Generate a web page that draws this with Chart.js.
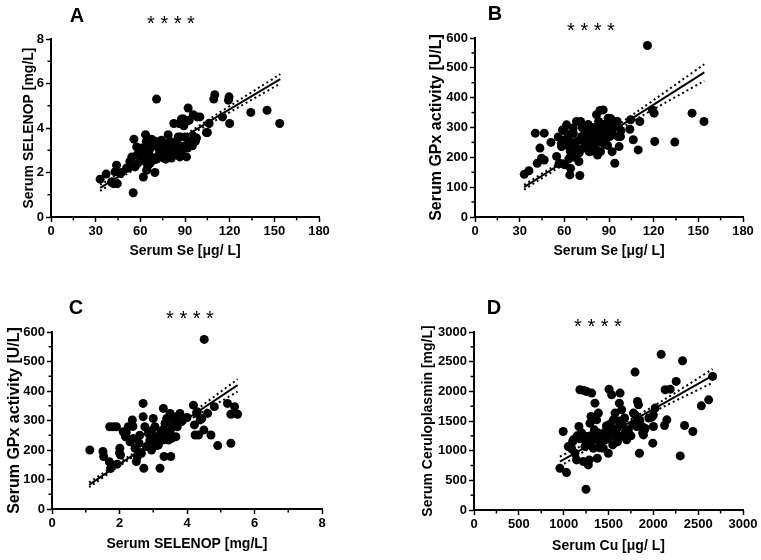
<!DOCTYPE html>
<html lang="en">
<head>
  <meta charset="UTF-8">
  <title>Selenium / copper correlations</title>
  <script src="https://cdn.jsdelivr.net/npm/chart.js"></script>
  <style>
    body { margin: 0; background: #fff; font-family: "Liberation Sans", Arial, sans-serif; }
    #fig { position: relative; width: 761px; height: 560px; }
    canvas { position: absolute; }
    .letter { position: absolute; font-weight: bold; font-size: 20px; line-height: 20px; transform: translateX(-50%); }
    .stars { position: absolute; font-size: 20px; line-height: 20px; transform: translateX(-50%); white-space: pre; }
  </style>
</head>
<body>
<div id="fig">
  <canvas id="cA" width="380" height="280" style="left:0;top:0"></canvas>
  <canvas id="cB" width="381" height="280" style="left:380px;top:0"></canvas>
  <canvas id="cC" width="380" height="280" style="left:0;top:280px"></canvas>
  <canvas id="cD" width="381" height="280" style="left:380px;top:280px"></canvas>
  <div class="letter" style="left:77px;top:5px">A</div>
  <div class="letter" style="left:495px;top:3px">B</div>
  <div class="letter" style="left:76px;top:297px">C</div>
  <div class="letter" style="left:494px;top:297px">D</div>
  <div class="stars" style="left:171px;top:13px">* * * *</div>
  <div class="stars" style="left:591px;top:20px">* * * *</div>
  <div class="stars" style="left:190px;top:308px">* * * *</div>
  <div class="stars" style="left:598px;top:316px">* * * *</div>
</div>

<script>
// A: serum Se vs SELENOP
const seA = [33,37,40.7,43,44,44.5,46.7,50.8,55.2,55.7,54.3,57.5,58,56.4,59.7,60.8,62,63.5,64.2,64.6,
  65.3,66.4,67.5,68.6,69.8,70.9,72,73,74.2,75.4,75.8,76.9,77.6,78.7,79.8,80.9,81.6,82.5,83.2,84.3,
  85.4,86.5,87.6,88,89.2,89.9,91,91.7,92.1,92.8,94.4,95.5,97.7,98.2,104.4,106.2,109.3,110,115.2,119.2,
  119.6,120,134.2,145.1,153.6,
  62,66,70,73,76,78,80,82,84,86,88,63,67,71,74,77,79,83,85,87,90,96,58,61,64,69,72,81,89,91,86,93,95,100,97,105,65,52,53,47,42];
const selenopA = [1.7,1.93,1.58,2.03,2.33,1.5,1.96,2.2,1.09,3.5,2.7,3.15,2.4,2.25,2.9,2.55,1.8,3.7,2.1,2.8,
  3.3,2.4,3.5,2.55,2.0,5.3,3.15,2.8,3.45,3.1,2.65,3.3,2.85,3.7,3.3,2.65,3.1,4.2,2.85,3.4,
  3.6,2.7,4.4,3.15,4.1,3.6,2.7,3.1,4.9,4.35,3.3,4.6,3.55,4.5,3.8,4.2,5.3,5.5,4.5,5.25,
  5.4,4.2,4.7,4.8,4.2,
  2.9,3.0,3.4,3.0,2.9,3.2,3.4,2.9,3.0,3.2,2.8,2.5,2.7,2.6,2.9,2.6,3.0,3.3,2.8,3.6,3.2,3.6,2.8,3.1,3.4,3.2,2.75,2.75,4.4,4.3,4.2,3.4,3.2,4.5,3.4,3.8,2.3,2.2,2.5,2.0,1.5];
const fitXA = [33, 60, 85, 110, 154];
const fitA = [1.31, 2.41, 3.42, 4.44, 6.2];
const upperA = [1.45, 2.5, 3.48, 4.56, 6.42];
const lowerA = [1.17, 2.32, 3.36, 4.32, 6.0];

// B: serum Se vs GPx activity
const seB = [33.1,36.2,40.5,41.8,43.6,44.7,46.5,46.5,51,54.8,55.9,56.4,58.1,58.8,60.4,61.5,62.6,63.7,64.2,64.8,
  66,67,68.2,69.8,70.4,70.9,71.6,72.7,74.9,76,76.7,77.8,79.4,80.5,81.6,82.3,83.2,83.9,84.3,85.4,
  86.1,87.2,87.9,89.4,90.6,91.2,92.1,93.9,95.5,96.8,97.7,104,104.5,106.3,109.6,110.7,115.8,119.2,120.3,120.7,
  134.2,145.8,153.8,
  60,65,68,72,74,78,80,82,85,88,90,62,66,70,75,77,81,84,86,89,91,93,95,58,63,67,73,79,83,87,92,96,98,69,76,57,64,61];
const gpxB = [143,155,281,180,231,197,281,191,250,203,268,178,236,292,175,309,275,141,163,210,
  298,247,320,186,139,320,270,231,303,259,219,287,236,253,343,208,264,357,219,309,
  359,242,287,331,270,309,219,180,320,236,270,294,326,259,225,320,575,359,348,253,
  251,348,320,
  290,250,230,300,250,220,270,290,250,260,300,240,280,215,280,240,230,300,280,240,330,300,320,245,195,200,265,300,320,310,285,270,290,255,310,180,220,260];
const fitXB = [33, 60, 85, 110, 154];
const fitB = [100, 186, 265, 345, 485];
const upperB = [108, 192, 272, 357, 512];
const lowerB = [92, 178, 258, 333, 456];

// C: SELENOP vs GPx activity
const selenopC = [1.12,1.51,1.53,1.71,1.74,1.81,1.91,1.93,2.01,2.03,2.11,2.18,2.26,2.31,2.38,2.41,2.46,2.5,2.53,2.58,
  2.65,2.7,2.7,2.72,2.75,2.8,2.85,2.9,2.95,3.0,3.03,3.05,3.1,3.15,3.2,3.23,3.28,3.3,3.32,3.37,
  3.4,3.45,3.5,3.52,3.56,3.61,3.67,3.71,3.79,3.84,4.19,4.22,4.24,4.29,4.34,4.39,4.44,4.51,4.5,4.61,
  4.71,4.81,4.91,5.2,5.3,5.3,5.41,5.5,
  2.9,3.0,3.1,3.2,3.3,3.4,3.5,3.6,2.95,3.15,3.35,3.55,3.75,2.6,2.2,2.4,4.0,4.3,1.7,2.0];
const gpxC = [200,195,178,279,138,279,279,152,206,183,262,245,279,228,302,239,206,161,178,223,
  189,358,313,138,279,212,257,234,200,307,223,279,245,217,138,262,234,341,178,262,
  307,234,324,178,279,313,245,279,324,296,352,285,251,324,251,302,307,575,268,324,
  251,347,215,358,223,321,347,321,
  225,240,215,250,270,245,260,290,265,230,290,240,300,250,260,280,310,330,160,190];
const fitXC = [1.1, 2, 3, 4, 5.5];
const fitC = [82, 152, 228, 305, 420];
const upperC = [90, 158, 233, 313, 440];
const lowerC = [74, 146, 223, 297, 398];

// D: serum Cu vs ceruloplasmin
const cuD = [958,995,1032,1051,1088,1107,1126,1144,1170,1181,1200,1219,1226,1237,1249,1256,1264,1275,1286,1293,
  1305,1312,1323,1331,1342,1349,1368,1375,1387,1405,1424,1442,1461,1480,1498,1506,1517,1535,1547,1554,
  1573,1584,1599,1621,1629,1636,1647,1685,1703,1722,1778,1796,1815,1823,1834,1845,1871,1890,1908,1983,
  1994,2001,2020,2087,2125,2132,2151,2188,2255,2300,2326,2348,2441,2535,2617,2661,
  1200,1250,1300,1350,1400,1450,1500,1550,1600,1650,1700,1750,1800,1850,1900,1950,2000,1150,1280,1380,1480,1580,1680,1780,1880,1100,1180,1520,1620];
const cpD = [704,1323,630,1069,1041,1182,957,844,1407,2026,1210,816,2015,1069,349,1998,1238,760,844,1463,
  1576,1970,1182,1041,1351,1801,1520,872,1633,1126,1266,1041,1182,1407,957,2037,1323,1942,1097,1520,
  1633,1238,1379,1801,1970,1238,1689,1294,1182,1351,1633,2324,1407,1829,1773,957,1407,1266,1379,1565,
  1126,1407,1717,2623,1424,2026,1520,2037,2167,912,2516,1424,1323,1756,1857,2251,
  1300,1150,1250,1200,1050,1300,1200,1350,1150,1450,1350,1250,1600,1500,1350,1550,1600,1250,1100,1300,1420,1300,1550,1450,1300,1150,1200,1450,1500];
const fitXD = [958, 1300, 1600, 2100, 2661];
const fitD = [816, 1107, 1362, 1786, 2263];
const upperD = [900, 1160, 1400, 1840, 2375];
const lowerD = [735, 1055, 1322, 1730, 2145];

const FONT = "'Liberation Sans', Arial, sans-serif";
const pts = (xs, ys) => xs.map((x, i) => ({ x: x, y: ys[i] }));

// short ticks half-way between the labelled ones
const minorTicks = {
  id: 'minorTicks',
  afterDraw(chart) {
    const { ctx, chartArea, scales } = chart;
    ctx.save();
    ctx.strokeStyle = '#000';
    ctx.lineWidth = 1.5;
    ['x', 'y'].forEach(k => {
      const s = scales[k], t = s.ticks;
      for (let i = 0; i < t.length - 1; i++) {
        const p = s.getPixelForValue((t[i].value + t[i + 1].value) / 2);
        ctx.beginPath();
        if (k === 'x') { ctx.moveTo(p, chartArea.bottom); ctx.lineTo(p, chartArea.bottom + 3.5); }
        else { ctx.moveTo(chartArea.left - 3.5, p); ctx.lineTo(chartArea.left, p); }
        ctx.stroke();
      }
    });
    ctx.restore();
  }
};

function panel(id, p) {
  const axis = (min, max, step, title, size, pad, fitFn) => ({
    type: 'linear', min: min, max: max,
    ticks: { stepSize: step, color: '#000', padding: 2, callback: v => String(v),
      font: { family: FONT, size: 13, weight: 'bold' } },
    grid: { drawOnChartArea: false, drawTicks: true, tickLength: 5, tickColor: '#000', tickWidth: 1.5 },
    border: { display: true, color: '#000', width: 2 },
    title: { display: true, text: title, color: '#000', padding: pad, font: { family: FONT, size: size, weight: 'bold' } },
    afterFit: fitFn
  });
  new Chart(document.getElementById(id), {
    type: 'scatter',
    data: {
      datasets: [
        { data: pts(p.xs, p.ys), backgroundColor: '#000', borderWidth: 0, pointRadius: 4.5, order: 2 },
        { data: pts(p.fitX, p.fit), showLine: true, borderColor: '#000', borderWidth: 2, pointRadius: 0, order: 1 },
        { data: pts(p.fitX, p.up), showLine: true, borderColor: '#000', borderWidth: 2, borderDash: [2, 3], pointRadius: 0, tension: 0.3, order: 1 },
        { data: pts(p.fitX, p.lo), showLine: true, borderColor: '#000', borderWidth: 2, borderDash: [2, 3], pointRadius: 0, tension: 0.3, order: 1 }
      ]
    },
    options: {
      responsive: false,
      animation: false,
      devicePixelRatio: 1,
      layout: { padding: { top: p.area.t, right: p.w - p.area.r, bottom: 0, left: 0 } },
      plugins: { legend: { display: false }, tooltip: { enabled: false } },
      scales: {
        x: axis(0, p.xMax, p.xStep, p.xTitle, 14, { top: 0, bottom: p.xPad },
          s => { s.height = 280 - p.area.b; }),
        y: axis(0, p.yMax, p.yStep, p.yTitle, p.ySize, { top: p.yPad, bottom: 0 },
          s => { s.width = p.area.l; })
      }
    },
    plugins: [minorTicks]
  });
}

panel('cA', { xs: seA, ys: selenopA, fitX: fitXA, fit: fitA, up: upperA, lo: lowerA,
  xMax: 180, xStep: 30, yMax: 8, yStep: 2, xTitle: 'Serum Se [μg/ L]', yTitle: 'Serum SELENOP [mg/L]',
  ySize: 14, yPad: 21, xPad: 20, w: 380, area: { l: 51, r: 319, t: 39, b: 217 } });
panel('cB', { xs: seB, ys: gpxB, fitX: fitXB, fit: fitB, up: upperB, lo: lowerB,
  xMax: 180, xStep: 30, yMax: 600, yStep: 100, xTitle: 'Serum Se [μg/ L]', yTitle: 'Serum GPx activity [U/L]',
  ySize: 16, yPad: 47, xPad: 20, w: 381, area: { l: 95, r: 363, t: 38, b: 217 } });
panel('cC', { xs: selenopC, ys: gpxC, fitX: fitXC, fit: fitC, up: upperC, lo: lowerC,
  xMax: 8, xStep: 2, yMax: 600, yStep: 100, xTitle: 'Serum SELENOP [mg/L]', yTitle: 'Serum GPx activity [U/L]',
  ySize: 16, yPad: 5, xPad: 7, w: 380, area: { l: 52, r: 322, t: 52, b: 229 } });
panel('cD', { xs: cuD, ys: cpD, fitX: fitXD, fit: fitD, up: upperD, lo: lowerD,
  xMax: 3000, xStep: 500, yMax: 3000, yStep: 500, xTitle: 'Serum Cu [μg/ L]', yTitle: 'Serum Ceruloplasmin [mg/L]',
  ySize: 14, yPad: 40, xPad: 5, w: 381, area: { l: 94, r: 363, t: 52, b: 230 } });
</script>
</body>
</html>
